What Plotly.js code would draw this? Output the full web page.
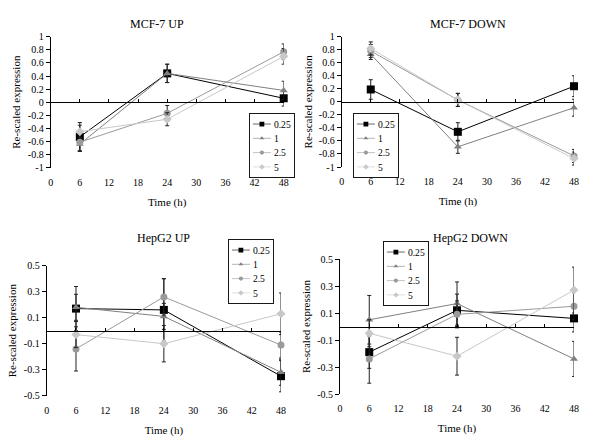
<!DOCTYPE html>
<html>
<head>
<meta charset="utf-8">
<script src="https://cdn.plot.ly/plotly-3.0.1.min.js"></script>
<style>html,body{margin:0;padding:0;background:#fff;}#chart{width:600px;height:448px;}</style>
</head>
<body>
<div id="chart"></div>
<script>
// ---- data ----
var times = [6, 24, 48];
var doses = ["0.25", "1", "2.5", "5"];
var panelTitles = ["MCF-7 UP", "MCF-7 DOWN", "HepG2 UP", "HepG2 DOWN"];

// MCF-7 UP
var mcfUp_025 = [-0.53, 0.44, 0.06];
var mcfUp_1   = [-0.64, 0.44, 0.18];
var mcfUp_25  = [-0.61, -0.17, 0.77];
var mcfUp_5   = [-0.45, -0.26, 0.70];
var mcfUpErr_025 = [0.22, 0.14, 0.12];
var mcfUpErr_1   = [0.10, 0.14, 0.14];
var mcfUpErr_25  = [0.14, 0.12, 0.12];
var mcfUpErr_5   = [0.10, 0.10, 0.12];

// MCF-7 DOWN
var mcfDn_025 = [0.19, -0.46, 0.24];
var mcfDn_1   = [0.73, -0.69, -0.09];
var mcfDn_25  = [0.78, 0.03, -0.83];
var mcfDn_5   = [0.82, 0.03, -0.87];
var mcfDnErr_025 = [0.15, 0.14, 0.16];
var mcfDnErr_1   = [0.08, 0.10, 0.13];
var mcfDnErr_25  = [0.10, 0.10, 0.10];
var mcfDnErr_5   = [0.10, 0.10, 0.10];

// HepG2 UP
var hepUp_025 = [0.17, 0.16, -0.35];
var hepUp_1   = [0.18, 0.11, -0.32];
var hepUp_25  = [-0.14, 0.26, -0.11];
var hepUp_5   = [-0.03, -0.10, 0.13];
var hepUpErr_025 = [0.17, 0.24, 0.12];
var hepUpErr_1   = [0.10, 0.10, 0.10];
var hepUpErr_25  = [0.17, 0.14, 0.10];
var hepUpErr_5   = [0.10, 0.14, 0.16];

// HepG2 DOWN
var hepDn_025 = [-0.19, 0.12, 0.06];
var hepDn_1   = [0.05, 0.17, -0.24];
var hepDn_25  = [-0.24, 0.09, 0.15];
var hepDn_5   = [-0.05, -0.22, 0.27];
var hepDnErr_025 = [0.12, 0.12, 0.10];
var hepDnErr_1   = [0.18, 0.16, 0.13];
var hepDnErr_25  = [0.18, 0.10, 0.10];
var hepDnErr_5   = [0.10, 0.14, 0.17];

var mcfTickVals = [-1, -0.8, -0.6, -0.4, -0.2, 0, 0.2, 0.4, 0.6, 0.8, 1];
var mcfTickText = ["-1", "-0.8", "-0.6", "-0.4", "-0.2", "0", "0.2", "0.4", "0.6", "0.8", "1"];
var hepTickVals = [-0.5, -0.3, -0.1, 0.1, 0.3, 0.5];
var hepTickText = ["-0.5", "-0.3", "-0.1", "0.1", "0.3", "0.5"];
var xTickVals = [0, 6, 12, 18, 24, 30, 36, 42, 48];

// ---- styles ----
var FONT = "Liberation Serif, Times New Roman, serif";
var colors = ["#000000", "#808080", "#9a9a9a", "#c8c8c8"];
var symbols = ["square", "triangle-up", "circle", "diamond"];
var sizes = [8, 7, 7, 7];

var panels = [
  {vals: [mcfUp_025, mcfUp_1, mcfUp_25, mcfUp_5], errs: [mcfUpErr_025, mcfUpErr_1, mcfUpErr_25, mcfUpErr_5]},
  {vals: [mcfDn_025, mcfDn_1, mcfDn_25, mcfDn_5], errs: [mcfDnErr_025, mcfDnErr_1, mcfDnErr_25, mcfDnErr_5]},
  {vals: [hepUp_025, hepUp_1, hepUp_25, hepUp_5], errs: [hepUpErr_025, hepUpErr_1, hepUpErr_25, hepUpErr_5]},
  {vals: [hepDn_025, hepDn_1, hepDn_25, hepDn_5], errs: [hepDnErr_025, hepDnErr_1, hepDnErr_25, hepDnErr_5]}
];

var W = 600, H = 448;
function px2x(p){ return p / W; }
function px2y(p){ return 1 - p / H; }

var geo = [
  {x0: 50.7, x1: 283.7, y0: 36.7, y1: 167.7, legX: 249, legY: 113, titleX: 157, titleY: 24},
  {x0: 341.7, x1: 574, y0: 36.7, y1: 167.0, legX: 353, legY: 113, titleX: 468, titleY: 24},
  {x0: 46.7, x1: 281, y0: 265.7, y1: 395.7, legX: 228, legY: 239, titleX: 163, titleY: 238},
  {x0: 340, x1: 574, y0: 259, y1: 394, legX: 383, legY: 241, titleX: 470, titleY: 238}
];

var LEG_SCALE = 0.6;

var traces = [];
var layout = {
  width: W, height: H,
  margin: {l: 0, r: 0, t: 0, b: 0},
  paper_bgcolor: "#ffffff",
  plot_bgcolor: "#ffffff",
  font: {family: FONT, size: 10, color: "#000"},
  annotations: [],
  showlegend: true
};

for (var p = 0; p < 4; p++) {
  var g = geo[p];
  var xa = "x" + (p + 1), ya = "y" + (p + 1);
  var legName = p === 0 ? "legend" : "legend" + (p + 1);
  for (var s = 0; s < 4; s++) {
    traces.push({
      type: "scatter", mode: "lines+markers",
      x: times, y: panels[p].vals[s],
      name: doses[s],
      xaxis: xa, yaxis: ya,
      legend: legName,
      cliponaxis: false,
      line: {color: colors[s], width: 1},
      marker: {symbol: symbols[s], size: sizes[s], color: colors[s]},
      error_y: {type: "data", array: panels[p].errs[s], visible: true, color: "#222", thickness: 1, width: 2}
    });
  }
  var isMcf = p < 2;
  var xKey = "xaxis" + (p + 1), yKey = "yaxis" + (p + 1);
  var yDom = [px2y(g.y1), px2y(g.y0)];
  layout[xKey] = {
    domain: [px2x(g.x0), px2x(g.x1)],
    anchor: ya,
    range: [0, 48],
    tickvals: xTickVals,
    showline: false, zeroline: false, showgrid: false,
    ticks: "", ticklabelstandoff: 7, tickfont: {family: FONT, size: 10},
    title: {text: "Time (h)", font: {family: FONT, size: 11}, standoff: 11},
    fixedrange: true
  };
  layout[yKey] = {
    domain: yDom,
    anchor: xa,
    range: isMcf ? [-1, 1] : [-0.5, 0.5],
    tickvals: isMcf ? mcfTickVals : hepTickVals,
    ticktext: isMcf ? mcfTickText : hepTickText,
    showline: true, linecolor: "#000", linewidth: 1,
    zeroline: false, showgrid: false,
    ticks: "outside", ticklen: 4, tickcolor: "#000",
    tickfont: {family: FONT, size: 10},
    title: {text: "Re-scaled expression", font: {family: FONT, size: 11}, standoff: 4},
    fixedrange: true
  };
  // crossing x axis drawn at y = 0 (middle of the domain)
  var crossKey = "xaxis" + (p + 5);
  layout[crossKey] = {
    domain: [px2x(g.x0), px2x(g.x1)],
    overlaying: xa,
    anchor: "free",
    position: (yDom[0] + yDom[1]) / 2,
    range: [0, 48],
    tickvals: xTickVals,
    showticklabels: false,
    showline: true, linecolor: "#000", linewidth: 1,
    ticks: "inside", ticklen: 3, tickcolor: "#000",
    showgrid: false, zeroline: false,
    fixedrange: true
  };
  traces.push({type: "scatter", mode: "none", x: [0, 48], y: [0, 0], xaxis: "x" + (p + 5), yaxis: ya, showlegend: false, hoverinfo: "skip"});

  layout[legName] = {
    x: px2x(g.legX), y: px2y(g.legY), xanchor: "left", yanchor: "top",
    bgcolor: "#ffffff", bordercolor: "#000", borderwidth: 1.5,
    font: {family: FONT, size: 16},
    itemwidth: 30, tracegroupgap: 0
  };
  layout.annotations.push({
    text: panelTitles[p], xref: "paper", yref: "paper",
    x: px2x(g.titleX), y: px2y(g.titleY), xanchor: "center", yanchor: "middle",
    showarrow: false, font: {family: FONT, size: 12}
  });
}

Plotly.newPlot("chart", traces, layout, {displayModeBar: false, staticPlot: true}).then(function(gd){
  // compact legends (the reference uses small boxed legends)
  ["legend", "legend2", "legend3", "legend4"].forEach(function(cls){
    var el = gd.querySelector("g." + cls);
    if (!el) return;
    var t = el.getAttribute("transform") || "";
    el.setAttribute("transform", t + " scale(" + LEG_SCALE + ")");
  });
});
</script>
</body>
</html>
